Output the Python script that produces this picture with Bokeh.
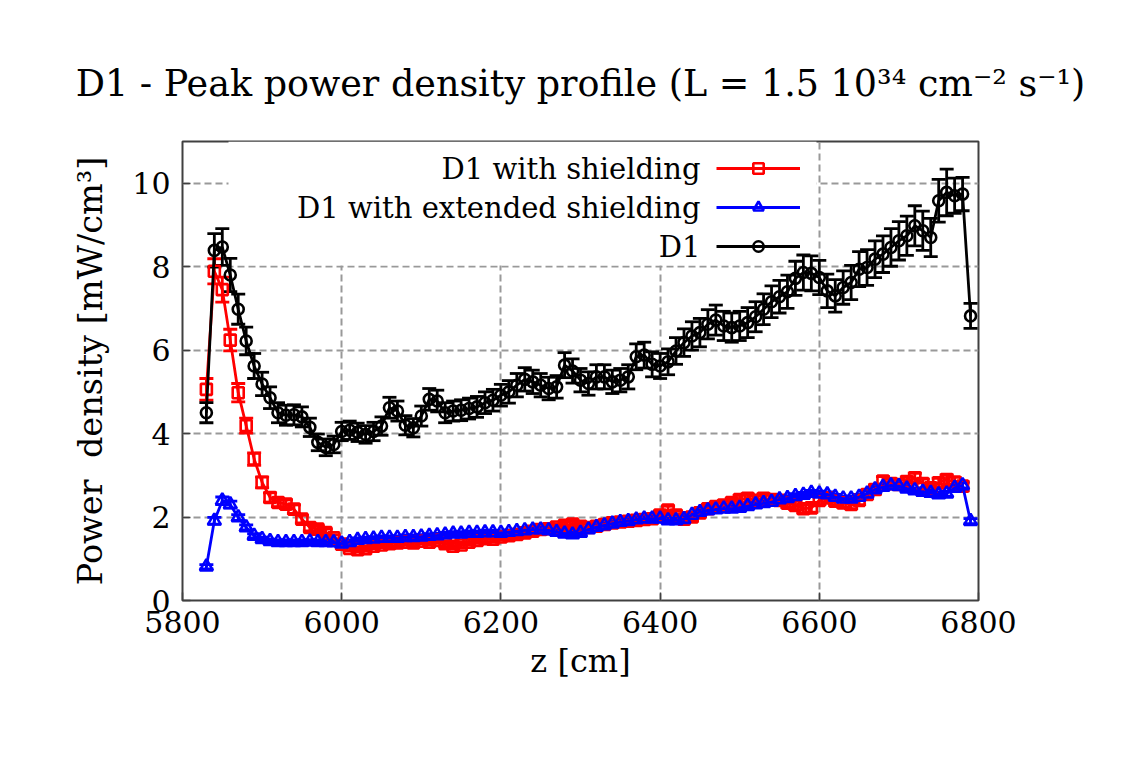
from bokeh.plotting import figure
from bokeh.models import (Range1d, FixedTicker, Whisker, TeeHead, ColumnDataSource,
                          Legend, LegendItem, Label, BoxAnnotation)
from bokeh.embed import file_html
from bokeh.resources import INLINE
from bokeh.core.properties import value

# ---------------- data ----------------
z_cm = [5830, 5840, 5850, 5860, 5870, 5880, 5890, 5900, 5910, 5920,
        5930, 5940, 5950, 5960, 5970, 5980, 5990, 6000, 6010, 6020,
        6030, 6040, 6050, 6060, 6070, 6080, 6090, 6100, 6110, 6120,
        6130, 6140, 6150, 6160, 6170, 6180, 6190, 6200, 6210, 6220,
        6230, 6240, 6250, 6260, 6270, 6280, 6290, 6300, 6310, 6320,
        6330, 6340, 6350, 6360, 6370, 6380, 6390, 6400, 6410, 6420,
        6430, 6440, 6450, 6460, 6470, 6480, 6490, 6500, 6510, 6520,
        6530, 6540, 6550, 6560, 6570, 6580, 6590, 6600, 6610, 6620,
        6630, 6640, 6650, 6660, 6670, 6680, 6690, 6700, 6710, 6720,
        6730, 6740, 6750, 6760, 6770, 6780, 6790]

d1_power = [4.50, 8.39, 8.47, 7.80, 6.98, 6.22, 5.62, 5.19, 4.86, 4.50,
            4.44, 4.45, 4.40, 4.15, 3.79, 3.67, 3.74, 4.05, 4.08, 4.03,
            3.98, 4.05, 4.18, 4.62, 4.54, 4.20, 4.14, 4.42, 4.82, 4.78,
            4.50, 4.54, 4.56, 4.60, 4.64, 4.74, 4.80, 4.92, 5.00, 5.16,
            5.30, 5.24, 5.16, 5.08, 5.12, 5.64, 5.50, 5.28, 5.20, 5.36,
            5.36, 5.24, 5.28, 5.36, 5.84, 5.88, 5.66, 5.62, 5.72, 5.98,
            6.18, 6.34, 6.42, 6.62, 6.72, 6.58, 6.54, 6.58, 6.66, 6.80,
            6.98, 7.16, 7.28, 7.40, 7.72, 7.86, 7.84, 7.74, 7.42, 7.30,
            7.50, 7.62, 7.94, 7.98, 8.18, 8.30, 8.46, 8.62, 8.74, 8.98,
            8.86, 8.70, 9.58, 9.78, 9.70, 9.74, 6.82]
d1_err = [0.24, 0.40, 0.44, 0.40, 0.36, 0.33, 0.30, 0.28, 0.26, 0.24,
          0.24, 0.24, 0.24, 0.22, 0.20, 0.20, 0.20, 0.22, 0.22, 0.22,
          0.21, 0.22, 0.22, 0.25, 0.24, 0.23, 0.22, 0.24, 0.26, 0.26,
          0.24, 0.24, 0.25, 0.25, 0.25, 0.26, 0.26, 0.26, 0.27, 0.28,
          0.28, 0.28, 0.28, 0.27, 0.27, 0.30, 0.29, 0.28, 0.28, 0.29,
          0.29, 0.28, 0.28, 0.29, 0.31, 0.31, 0.30, 0.30, 0.31, 0.32,
          0.33, 0.34, 0.34, 0.35, 0.36, 0.35, 0.35, 0.35, 0.36, 0.36,
          0.37, 0.38, 0.39, 0.40, 0.41, 0.42, 0.42, 0.41, 0.40, 0.39,
          0.40, 0.41, 0.42, 0.43, 0.44, 0.44, 0.45, 0.46, 0.47, 0.48,
          0.47, 0.46, 0.51, 0.56, 0.42, 0.40, 0.30]

shield_power = [5.06, 7.89, 7.45, 6.24, 4.98, 4.19, 3.39, 2.83, 2.47, 2.35,
                2.31, 2.19, 1.95, 1.75, 1.71, 1.63, 1.50, 1.35, 1.25, 1.22,
                1.24, 1.30, 1.33, 1.36, 1.38, 1.40, 1.38, 1.42, 1.40, 1.44,
                1.36, 1.30, 1.33, 1.40, 1.44, 1.48, 1.47, 1.52, 1.55, 1.58,
                1.62, 1.66, 1.70, 1.72, 1.76, 1.80, 1.83, 1.78, 1.75, 1.78,
                1.82, 1.86, 1.88, 1.90, 1.92, 1.94, 1.96, 2.05, 2.17, 2.05,
                1.95, 2.00, 2.10, 2.20, 2.25, 2.29, 2.35, 2.42, 2.45, 2.40,
                2.45, 2.42, 2.40, 2.33, 2.28, 2.20, 2.22, 2.40, 2.46, 2.38,
                2.34, 2.30, 2.40, 2.54, 2.66, 2.86, 2.80, 2.78, 2.85, 2.94,
                2.80, 2.70, 2.82, 2.90, 2.84, 2.74]
shield_err = [0.26, 0.30, 0.30, 0.26, 0.22, 0.18, 0.15, 0.13, 0.11, 0.10,
              0.10, 0.10, 0.09, 0.08, 0.08, 0.08, 0.07, 0.07, 0.06, 0.06,
              0.06, 0.06, 0.06, 0.07, 0.07, 0.07, 0.07, 0.07, 0.07, 0.07,
              0.07, 0.07, 0.07, 0.07, 0.07, 0.07, 0.07, 0.07, 0.08, 0.08,
              0.08, 0.08, 0.08, 0.08, 0.08, 0.08, 0.08, 0.08, 0.08, 0.08,
              0.08, 0.08, 0.08, 0.08, 0.08, 0.08, 0.08, 0.09, 0.09, 0.09,
              0.09, 0.09, 0.09, 0.09, 0.09, 0.09, 0.09, 0.10, 0.10, 0.10,
              0.10, 0.10, 0.10, 0.10, 0.10, 0.10, 0.10, 0.10, 0.10, 0.10,
              0.10, 0.10, 0.10, 0.10, 0.11, 0.11, 0.11, 0.11, 0.11, 0.11,
              0.11, 0.11, 0.11, 0.11, 0.11, 0.11]

ext_power = [0.81, 1.91, 2.39, 2.30, 1.99, 1.75, 1.55, 1.47, 1.42, 1.40,
             1.40, 1.40, 1.40, 1.41, 1.40, 1.40, 1.39, 1.36, 1.40, 1.45,
             1.47, 1.48, 1.50, 1.50, 1.50, 1.52, 1.52, 1.53, 1.55, 1.56,
             1.58, 1.60, 1.60, 1.62, 1.62, 1.63, 1.63, 1.62, 1.64, 1.66,
             1.68, 1.70, 1.70, 1.68, 1.64, 1.60, 1.58, 1.62, 1.70, 1.76,
             1.80, 1.84, 1.88, 1.90, 1.94, 1.96, 1.96, 1.96, 1.92, 1.92,
             1.95, 2.05, 2.12, 2.16, 2.18, 2.20, 2.20, 2.22, 2.26, 2.30,
             2.33, 2.36, 2.42, 2.45, 2.50, 2.53, 2.58, 2.56, 2.54, 2.48,
             2.44, 2.44, 2.48, 2.56, 2.66, 2.72, 2.76, 2.74, 2.68, 2.64,
             2.60, 2.58, 2.54, 2.56, 2.70, 2.76, 1.90]
ext_err = [0.05, 0.08, 0.09, 0.08, 0.07, 0.06, 0.05, 0.05, 0.05, 0.05,
           0.05, 0.05, 0.05, 0.05, 0.05, 0.05, 0.05, 0.05, 0.05, 0.05,
           0.05, 0.05, 0.05, 0.05, 0.05, 0.05, 0.05, 0.05, 0.05, 0.05,
           0.05, 0.05, 0.05, 0.05, 0.05, 0.05, 0.05, 0.05, 0.05, 0.05,
           0.05, 0.05, 0.05, 0.05, 0.05, 0.05, 0.05, 0.05, 0.05, 0.05,
           0.05, 0.05, 0.05, 0.05, 0.05, 0.05, 0.05, 0.05, 0.05, 0.05,
           0.06, 0.06, 0.06, 0.06, 0.06, 0.06, 0.06, 0.06, 0.06, 0.06,
           0.06, 0.06, 0.06, 0.06, 0.06, 0.06, 0.06, 0.06, 0.06, 0.06,
           0.06, 0.06, 0.06, 0.06, 0.06, 0.06, 0.06, 0.06, 0.06, 0.06,
           0.06, 0.06, 0.06, 0.06, 0.06, 0.06, 0.06]

x_ticks = [5800, 6000, 6200, 6400, 6600, 6800]
y_ticks = [0, 2, 4, 6, 8, 10]

series_labels = ["D1 with shielding", "D1 with extended shielding", "D1"]
title_text = "D1 - Peak power density profile (L = 1.5 10\u00b3\u2074 cm\u207b\u00b2 s\u207b\u00b9)"

# ---------------- figure ----------------
FONT = "DejaVu Serif"
p = figure(width=1120, height=757, x_range=Range1d(5800, 6800), y_range=Range1d(0, 11),
           output_backend="svg", toolbar_location=None, tools="",
           min_border_left=182, min_border_right=142, min_border_top=141,
           min_border_bottom=157)
p.background_fill_color = "white"
p.border_fill_color = "white"

p.title.text = title_text
p.title.align = "center"
p.title.text_font = FONT
p.title.text_font_size = "36.5px"
p.title.text_font_style = "normal"
p.title.text_color = "black"
p.title.standoff = 73

p.xaxis.ticker = FixedTicker(ticks=x_ticks)
p.yaxis.ticker = FixedTicker(ticks=y_ticks)
for ax in (p.xaxis, p.yaxis):
    ax.major_label_text_font = FONT
    ax.major_label_text_font_size = "30px"
    ax.major_label_text_color = "black"
    ax.axis_label_text_font = FONT
    ax.axis_label_text_font_style = "normal"
    ax.axis_label_text_color = "black"
    ax.axis_line_color = None
    ax.major_tick_in = 8
    ax.major_tick_out = 0
    ax.major_tick_line_color = "#404040"
    ax.major_tick_line_width = 1.5
    ax.minor_tick_line_color = None
p.xaxis.axis_label_text_font_size = "32px"
p.yaxis.axis_label_text_font_size = "33.5px"
p.xaxis.axis_label = "z [cm]"
p.yaxis.axis_label = "Power\u00a0 density [mW/cm\u00b3]"
p.xaxis.major_label_standoff = 10
p.xaxis.axis_label_standoff = 6
p.yaxis.major_label_standoff = 12
p.yaxis.axis_label_standoff = 19

p.grid.grid_line_color = "#999999"
p.grid.grid_line_dash = "7 4"
p.grid.grid_line_width = 2

p.outline_line_color = "#404040"
p.outline_line_width = 2

# white key box hiding the grid behind the legend
key_box = BoxAnnotation(left=46, right=634, top=459, bottom=335,
                        left_units="screen", right_units="screen",
                        top_units="screen", bottom_units="screen",
                        fill_color="white", fill_alpha=1.0, line_color=None,
                        level="underlay")
p.add_layout(key_box)

def add_series(zs, vals, errs, color, marker, size):
    src = ColumnDataSource(dict(z=zs, v=vals,
                                lo=[a - b for a, b in zip(vals, errs)],
                                hi=[a + b for a, b in zip(vals, errs)]))
    w = Whisker(source=src, base="z", upper="hi", lower="lo", dimension="height",
                line_color=color, line_width=2.8,
                upper_head=TeeHead(size=14, line_color=color, line_width=2.8),
                lower_head=TeeHead(size=14, line_color=color, line_width=2.8))
    p.add_layout(w)
    ln = p.line("z", "v", source=src, line_color=color, line_width=2.8)
    mk = p.scatter("z", "v", source=src, marker=marker, size=size,
                   line_color=color, fill_color=None, line_width=2.6)
    return ln, mk

red_ln, red_mk = add_series(z_cm[:len(shield_power)], shield_power, shield_err, "#ff0000", "square", 11)
blue_ln, blue_mk = add_series(z_cm, ext_power, ext_err, "#0000ff", "triangle", 13)
blk_ln, blk_mk = add_series(z_cm, d1_power, d1_err, "#000000", "circle", 11)

legend = Legend(items=[LegendItem(label=value(" "), renderers=[red_ln, red_mk]),
                       LegendItem(label=value(" "), renderers=[blue_ln, blue_mk]),
                       LegendItem(label=value(" "), renderers=[blk_ln, blk_mk])],
                location=(534, 341), padding=0, margin=0, spacing=13,
                glyph_width=84, glyph_height=26, label_standoff=0,
                label_text_font_size="10px", label_height=26, label_width=4,
                background_fill_alpha=0, border_line_color=None)
p.add_layout(legend)

row_y = [432, 393, 354]
for txt, yy in zip(series_labels, row_y):
    p.add_layout(Label(x=518, y=yy, x_units="screen", y_units="screen", text=txt,
                       text_align="right", text_baseline="middle",
                       text_font=FONT, text_font_size="29px", text_color="black"))

open("out.html", "w").write(file_html(p, INLINE))
